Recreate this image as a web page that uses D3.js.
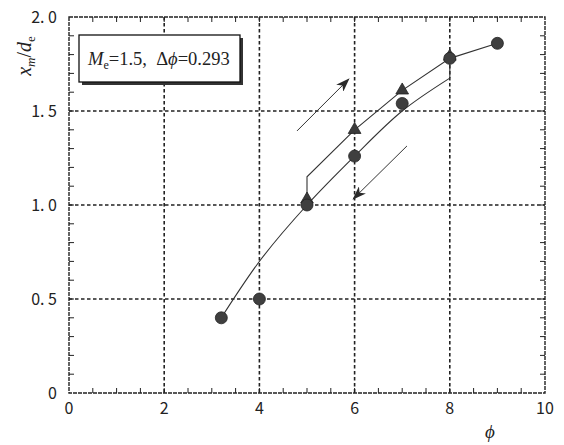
<!DOCTYPE html>
<html>
<head>
<meta charset="utf-8">
<script src="https://cdn.jsdelivr.net/npm/d3@7"></script>
<style>
  body { margin: 0; background: #fff; }
  svg { display: block; }
  .tick-label { font-family: "Noto Sans CJK JP", "DejaVu Sans", sans-serif; font-size: 16px; fill: #222; white-space: pre; }
  .serif { font-family: "Liberation Serif", "DejaVu Serif", serif; fill: #222; white-space: pre; }
</style>
</head>
<body>
<svg width="564" height="445"></svg>
<script>
// measured data (phi vs x_m/d_e)
var circlePhi = [3.2, 4, 5, 6, 7, 8, 9];
var circleXm  = [0.40, 0.50, 1.00, 1.26, 1.54, 1.78, 1.86];
var trianglePhi = [5, 6, 7, 8];
var triangleXm  = [1.03, 1.40, 1.61, 1.79];

// hysteresis loop: increasing branch and decreasing branch
var upPhi = [5, 5, 6, 7, 8, 9];
var upXm  = [1.0, 1.15, 1.40, 1.61, 1.78, 1.86];
var downPhi = [8, 8, 7, 6, 5, 4.03, 3.2];
var downXm  = [1.78, 1.675, 1.50, 1.26, 1.0, 0.71, 0.40];

// direction arrows [start, end]
var arrowUp   = [[4.79, 1.394], [5.88, 1.67]];
var arrowDown = [[7.10, 1.314], [5.97, 1.032]];

var xTicks = [0, 2, 4, 6, 8, 10];
var yTicks = [0, 0.5, 1.0, 1.5, 2.0];
var yTickLabels = ["0", "0. 5", "1. 0", "1. 5", "2. 0"];

var svg = d3.select("svg"),
    margin = {top: 17, right: 19, bottom: 52, left: 69},
    width = +svg.attr("width") - margin.left - margin.right,
    height = +svg.attr("height") - margin.top - margin.bottom;

var x = d3.scaleLinear().domain([0, 10]).range([0, width]);
var y = d3.scaleLinear().domain([0, 2]).range([height, 0]);

var g = svg.append("g")
    .attr("transform", "translate(" + margin.left + "," + margin.top + ")");

// arrow marker
svg.append("defs").append("marker")
    .attr("id", "head")
    .attr("viewBox", "0 -5 14 10")
    .attr("refX", 13)
    .attr("refY", 0)
    .attr("markerWidth", 14)
    .attr("markerHeight", 10)
    .attr("markerUnits", "userSpaceOnUse")
    .attr("orient", "auto")
  .append("path")
    .attr("d", "M0,-5L14,0L0,5L4,0Z")
    .attr("fill", "#2a2a2a");

// dashed grid
g.selectAll(".vgrid")
    .data(xTicks.slice(1, -1))
  .enter().append("line")
    .attr("x1", function(d) { return x(d); })
    .attr("x2", function(d) { return x(d); })
    .attr("y1", 0)
    .attr("y2", height)
    .attr("stroke", "#222")
    .attr("stroke-width", 1.6)
    .attr("stroke-dasharray", "3.5,2.5");

g.selectAll(".hgrid")
    .data(yTicks.slice(1, -1))
  .enter().append("line")
    .attr("x1", 0)
    .attr("x2", width)
    .attr("y1", function(d) { return y(d); })
    .attr("y2", function(d) { return y(d); })
    .attr("stroke", "#222")
    .attr("stroke-width", 1.6)
    .attr("stroke-dasharray", "3.5,2.5");

// inward minor/major ticks on all four sides
var tickLen = 5;
var xMinor = d3.range(0.5, 10, 0.5);
var yMinor = d3.range(1, 20).map(function(i) { return i / 10; });

g.selectAll(".xt")
    .data(xMinor)
  .enter().append("path")
    .attr("d", function(d) {
      return "M" + x(d) + "," + height + "v" + (-tickLen) +
             "M" + x(d) + ",0v" + tickLen;
    })
    .attr("stroke", "#222")
    .attr("stroke-width", 1);

g.selectAll(".yt")
    .data(yMinor)
  .enter().append("path")
    .attr("d", function(d) {
      return "M0," + y(d) + "h" + tickLen +
             "M" + width + "," + y(d) + "h" + (-tickLen);
    })
    .attr("stroke", "#222")
    .attr("stroke-width", 1);

// frame
g.append("rect")
    .attr("width", width)
    .attr("height", height)
    .attr("fill", "none")
    .attr("stroke", "#222")
    .attr("stroke-width", 1.4)
    .attr("stroke-dasharray", "4,1");

// tick labels
g.selectAll(".xl")
    .data(xTicks)
  .enter().append("text")
    .attr("class", "tick-label")
    .attr("x", function(d) { return x(d); })
    .attr("y", height + 21)
    .attr("text-anchor", "middle")
    .text(function(d) { return d; });

g.selectAll(".yl")
    .data(yTicks)
  .enter().append("text")
    .attr("class", "tick-label")
    .attr("x", -12)
    .attr("y", function(d) { return y(d) + 6; })
    .attr("text-anchor", "end")
    .text(function(d, i) { return yTickLabels[i]; });

// axis titles
svg.append("text")
    .attr("class", "serif")
    .attr("x", 490)
    .attr("y", 438)
    .attr("text-anchor", "middle")
    .attr("font-size", 19)
    .attr("font-style", "italic")
    .text("\u03d5");

var ylab = svg.append("text")
    .attr("class", "serif")
    .attr("transform", "translate(31,56) rotate(-90)")
    .attr("text-anchor", "middle")
    .attr("font-size", 20)
    .attr("font-style", "italic");
ylab.append("tspan").text("x");
ylab.append("tspan").attr("font-size", 13).attr("dy", 4).text("m");
ylab.append("tspan").attr("dy", -4).attr("font-style", "normal").text("/");
ylab.append("tspan").text("d");
ylab.append("tspan").attr("font-size", 13).attr("dy", 4).attr("font-style", "normal").text("e");

// curves
var line = d3.line()
    .x(function(d) { return x(d[0]); })
    .y(function(d) { return y(d[1]); });
var smooth = d3.line()
    .x(function(d) { return x(d[0]); })
    .y(function(d) { return y(d[1]); })
    .curve(d3.curveCatmullRom.alpha(0.5));

g.append("path")
    .datum(upPhi.map(function(p, i) { return [p, upXm[i]]; }))
    .attr("d", line)
    .attr("fill", "none")
    .attr("stroke", "#333")
    .attr("stroke-width", 1.1);

var down = downPhi.map(function(p, i) { return [p, downXm[i]]; });
g.append("path")
    .datum(down.slice(0, 2))
    .attr("d", line)
    .attr("fill", "none")
    .attr("stroke", "#333")
    .attr("stroke-width", 1.1);
g.append("path")
    .datum(down.slice(1))
    .attr("d", smooth)
    .attr("fill", "none")
    .attr("stroke", "#333")
    .attr("stroke-width", 1.1);

// arrows
[arrowUp, arrowDown].forEach(function(a) {
  g.append("line")
      .attr("x1", x(a[0][0]))
      .attr("y1", y(a[0][1]))
      .attr("x2", x(a[1][0]))
      .attr("y2", y(a[1][1]))
      .attr("stroke", "#333")
      .attr("stroke-width", 1)
      .attr("marker-end", "url(#head)");
});

// markers
var tri = d3.symbol().type(d3.symbolTriangle).size(70);
g.selectAll(".tri")
    .data(trianglePhi)
  .enter().append("path")
    .attr("d", tri)
    .attr("transform", function(d, i) {
      return "translate(" + x(d) + "," + y(triangleXm[i]) + ")";
    })
    .attr("fill", "#3a3a3a")
    .attr("stroke", "#222")
    .attr("stroke-width", 0.8);

g.selectAll(".dot")
    .data(circlePhi)
  .enter().append("circle")
    .attr("cx", function(d) { return x(d); })
    .attr("cy", function(d, i) { return y(circleXm[i]); })
    .attr("r", 6)
    .attr("fill", "#3f3f3f")
    .attr("stroke", "#222")
    .attr("stroke-width", 0.8);

// legend box with shadow
var box = svg.append("g").attr("transform", "translate(79,35)");
box.append("rect")
    .attr("x", 3).attr("y", 3)
    .attr("width", 161).attr("height", 47)
    .attr("fill", "#333");
box.append("rect")
    .attr("width", 161).attr("height", 47)
    .attr("fill", "#fff")
    .attr("stroke", "#111")
    .attr("stroke-width", 1.3);
var lt = box.append("text")
    .attr("class", "serif")
    .attr("x", 9)
    .attr("y", 30)
    .attr("font-size", 18.5);
lt.append("tspan").attr("font-style", "italic").text("M");
lt.append("tspan").attr("font-size", 12).attr("dy", 4).text("e");
lt.append("tspan").attr("dy", -4).text("=1.5,\u00a0\u00a0\u0394");
lt.append("tspan").attr("font-style", "italic").text("\u03d5");
lt.append("tspan").text("=0.293");
</script>
</body>
</html>
